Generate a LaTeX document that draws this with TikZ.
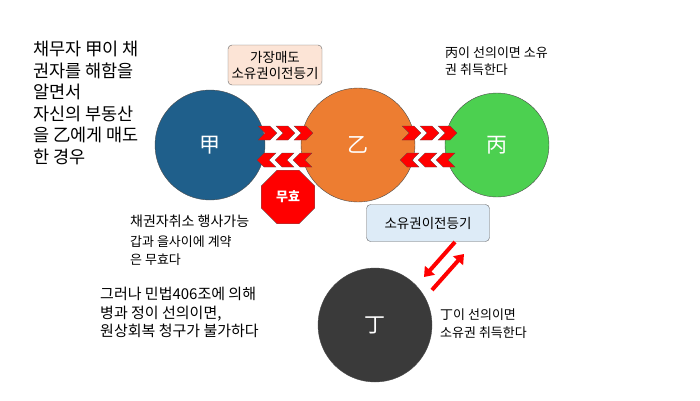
\documentclass[tikz,border=0pt]{standalone}
\usepackage{fontspec}
\setmainfont{Noto Sans CJK KR}
\usetikzlibrary{shapes.geometric,arrows.meta}
\definecolor{gapblue}{HTML}{1F5F8B}
\definecolor{eulorange}{HTML}{ED7D31}
\definecolor{byeonggreen}{HTML}{4CD050}
\definecolor{jeonggray}{HTML}{3A3A3A}
\definecolor{peach}{HTML}{FCE4D6}
\definecolor{skyblue}{HTML}{DDEBF7}
\newcommand{\chevR}[2]{% right chevron at (#1,#2)
  \filldraw[fill=red,draw=black!70,line width=0.3pt] (#1,#2-7) -- (#1+12,#2-7) -- (#1+19,#2) -- (#1+12,#2+7) -- (#1,#2+7) -- (#1+7,#2) -- cycle;}
\newcommand{\chevL}[2]{% left chevron at (#1,#2)
  \filldraw[fill=red,draw=black!70,line width=0.3pt] (#1,#2-7) -- (#1-12,#2-7) -- (#1-19,#2) -- (#1-12,#2+7) -- (#1,#2+7) -- (#1-7,#2) -- cycle;}
\begin{document}
\begin{tikzpicture}[x=1pt,y=-1pt,
  party/.style={circle,draw=black!70,line width=0.4pt,text=white,font=\fontsize{21}{21}\selectfont},
  notebox/.style={draw=black!60,rounded corners=4pt,font=\fontsize{13.5}{16}\selectfont,align=center},
  txt/.style={anchor=north west,align=left,inner sep=0pt},
  redarrow/.style={draw=red,line width=4pt,-{Triangle[length=9pt,width=13pt]}}]
\useasboundingbox (0,0) rectangle (700,400);
%----------parties----------------------------
\node[party,fill=gapblue,minimum size=110pt] (gap) at (210,145) {甲};
\node[party,fill=eulorange,minimum size=114pt] (eul) at (358,145) {乙};
\node[party,fill=byeonggreen,minimum size=104pt] (byeong) at (497,145) {丙};
\node[party,fill=jeonggray,minimum size=114pt] (jeong) at (375,325) {丁};
%----------chevrons---------------------------
\foreach \i in {0,1,2}{
  \chevR{258+\i*18}{133}
  \chevL{312-\i*18}{160}
  \chevR{402+\i*18}{133}
  \chevL{455-\i*18}{160}
}
\node[regular polygon,regular polygon sides=8,fill=red,draw=black!60,minimum size=58pt,
  text=white,font=\bfseries\fontsize{13}{13}\selectfont] (void) at (288,197) {무효};
%----------boxes------------------------------
\node[notebox,fill=peach,minimum width=94pt,minimum height=40pt] (sale) at (275,65) {가장매도\\소유권이전등기};
\node[notebox,fill=skyblue,minimum width=123pt,minimum height=37pt] (reg) at (428,223) {소유권이전등기};
\coordinate (a1) at (455,242);
\coordinate (a2) at (424,277);
\coordinate (b1) at (432,290);
\coordinate (b2) at (464,254);
\draw[redarrow] (a1) -- (a2);
\draw[redarrow] (b1) -- (b2);
%----------text-------------------------------
\node[txt,font=\fontsize{17.5}{21.5}\selectfont] (case) at (33,41) {채무자 甲이 채\\권자를 해함을\\알면서\\자신의 부동산\\을 乙에게 매도\\한 경우};
\node[txt,font=\fontsize{13}{17}\selectfont] (byeongtxt) at (445,47) {丙이 선의이면 소유\\권 취득한다};
\node[txt,font=\fontsize{14}{17}\selectfont] (cancel) at (130,215) {채권자취소 행사가능};
\node[txt,font=\fontsize{13}{18}\selectfont] (contract) at (130,236) {갑과 을사이에 계약\\은 무효다};
\node[txt,font=\fontsize{15}{18.5}\selectfont] (however) at (100,287) {그러나 민법406조에 의해\\병과 정이 선의이면,\\원상회복 청구가 불가하다};
\node[txt,font=\fontsize{13}{18}\selectfont] (jeongtxt) at (440,309) {丁이 선의이면\\소유권 취득한다};
\end{tikzpicture}
\end{document}
